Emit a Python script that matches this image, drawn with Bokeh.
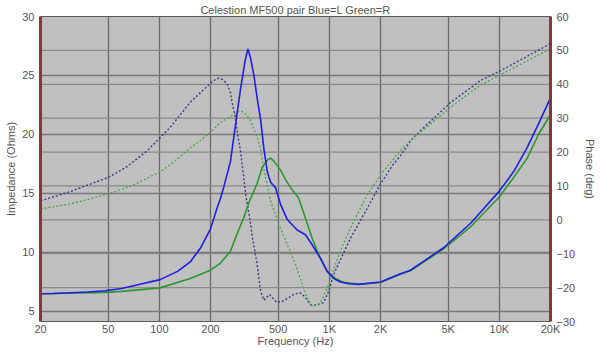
from bokeh.plotting import figure
from bokeh.models import Range1d, LinearAxis, FixedTicker, Span
from bokeh.embed import file_html
from bokeh.resources import INLINE

title_text = "Celestion MF500 pair Blue=L Green=R"
freq_ticks = [20, 50, 100, 200, 500, 1000, 2000, 5000, 10000, 20000]
freq_labels = ["20", "50", "100", "200", "500", "1K", "2K", "5K", "10K", "20K"]
ohm_ticks = [5, 10, 15, 20, 25, 30]
deg_ticks = [-30, -20, -10, 0, 10, 20, 30, 40, 50, 60]

# Impedance, left channel (blue solid)
zl_freq = [20, 24, 38, 48, 60, 77, 101, 128, 152, 175, 200, 219, 229, 240, 262, 275, 300,
           320, 332, 344, 360, 377, 394, 412, 421, 431, 441, 451, 461, 482, 516, 565, 647,
           724, 793, 887, 972, 1062, 1163, 1300, 1484, 2000, 2622, 3000, 4700, 6800, 10000,
           12200, 14600, 17000, 20000]
zl_ohm = [6.5, 6.52, 6.65, 6.75, 6.95, 7.3, 7.7, 8.4, 9.2, 10.4, 12.0, 13.8, 14.6, 15.6, 17.7,
          19.9, 23.8, 26.3, 27.25, 26.5, 25.0, 23.0, 21.3, 18.8, 17.9, 16.9, 16.4, 16.0, 15.8,
          15.5, 14.1, 12.8, 11.9, 11.5, 10.65, 9.5, 8.4, 7.8, 7.5, 7.35, 7.3, 7.5, 8.2, 8.5,
          10.4, 12.5, 15.2, 16.9, 18.9, 20.9, 23.1]

# Impedance, right channel (green solid)
zr_freq = [20, 48, 60, 101, 152, 200, 229, 262, 287, 313, 340, 360, 377, 403, 430, 451, 475,
           516, 552, 591, 661, 724, 793, 867, 972, 1087, 1200, 1484, 2000, 2622, 3000, 4700,
           6800, 10000, 12200, 14600, 17000, 20000]
zr_ohm = [6.5, 6.62, 6.7, 7.0, 7.8, 8.5, 9.1, 10.1, 11.6, 12.9, 14.4, 15.2, 15.9, 17.2, 17.8,
          18.0, 17.7, 17.0, 16.2, 15.5, 14.6, 12.9, 11.2, 9.8, 8.4, 7.8, 7.5, 7.3, 7.45, 8.15,
          8.45, 10.3, 12.2, 14.7, 16.4, 18.0, 20.0, 21.7]

# Phase, left channel (blue dotted)
pl_freq = [20, 29, 50, 65, 85, 116, 152, 175, 200, 215, 225, 240, 252, 262, 268, 281, 290,
           300, 313, 321, 344, 352, 376, 394, 412, 445, 490, 540, 618, 674, 724, 778, 850,
           925, 993, 1062, 1332, 1677, 2000, 2385, 2622, 3003, 3436, 5163, 7746, 10158, 20000]
pl_deg = [5.6, 8.1, 12.5, 15.8, 20.4, 27.3, 34.7, 37.6, 40.3, 41.5, 41.8, 41.2, 39.8, 37.6,
          34.5, 30.0, 24.5, 20.5, 13.0, 8.0, -1.0, -5.0, -13.0, -21.0, -23.7, -22.0, -24.4,
          -23.9, -22.0, -21.5, -22.9, -25.1, -25.1, -24.4, -21.0, -16.0, -5.4, 3.5, 10.6,
          16.5, 18.9, 23.3, 26.3, 34.6, 41.1, 44.0, 52.0]

# Phase, right channel (green dotted)
pr_freq = [20, 30, 50, 70, 89, 102, 116, 135, 152, 175, 200, 229, 262, 293, 307, 329, 344,
           360, 377, 394, 412, 451, 504, 565, 632, 692, 740, 793, 867, 925, 993, 1062, 1143,
           1332, 1677, 2082, 2622, 3003, 5163, 7746, 10158, 20000]
pr_deg = [3.2, 4.7, 7.6, 10.2, 12.8, 14.3, 16.3, 19.0, 21.2, 23.5, 25.8, 28.8, 30.5, 32.0,
          32.0, 30.7, 29.2, 26.8, 24.3, 20.9, 14.8, 5.6, -1.3, -7.2, -13.1, -19.0, -23.0,
          -25.4, -25.1, -22.5, -19.0, -14.5, -10.0, -2.4, 7.6, 14.4, 20.4, 23.4, 33.2, 39.8,
          42.8, 50.5]

TXT = "#555555"
FONT = "Liberation Sans"

p = figure(width=602, height=356, x_axis_type="log",
           x_range=Range1d(20, 20000), y_range=Range1d(4.15, 30),
           output_backend="svg", toolbar_location=None,
           min_border_left=40, min_border_right=52, min_border_top=16, min_border_bottom=35)
p.extra_y_ranges = {"phase": Range1d(-30, 60)}

p.background_fill_color = "#c0c0c0"
p.border_fill_color = "white"
p.outline_line_color = "#5a5a5a"
p.outline_line_width = 1

p.title.text = title_text
p.title.align = "center"
p.title.text_font = FONT
p.title.text_font_size = "11px"
p.title.text_font_style = "normal"
p.title.text_color = TXT
p.title.standoff = 1

# grids
p.xgrid.ticker = FixedTicker(ticks=freq_ticks)
p.xgrid.grid_line_color = "#6a6a6a"
p.xgrid.grid_line_width = 1.3
p.ygrid.ticker = FixedTicker(ticks=ohm_ticks)
p.ygrid.grid_line_color = "#777777"
p.ygrid.grid_line_width = 1.6
for d in deg_ticks[1:-1]:
    p.add_layout(Span(location=d, dimension="width", y_range_name="phase",
                      line_color="#8a8a8a", line_width=1.3, level="underlay"))

# axes
xa = p.xaxis[0]
xa.ticker = FixedTicker(ticks=freq_ticks)
xa.major_label_overrides = {t: l for t, l in zip(freq_ticks, freq_labels)}
xa.axis_label = "Frequency (Hz)"
xa.axis_line_color = None
xa.major_tick_line_color = None
xa.minor_tick_line_color = None
xa.major_tick_out = 0
xa.major_tick_in = 0
xa.minor_tick_out = 0
xa.major_label_standoff = 1
xa.axis_label_standoff = -3

ya = p.yaxis[0]
ya.ticker = FixedTicker(ticks=ohm_ticks)
ya.axis_label = "Impedance (Ohms)"
ya.axis_line_color = "#7a3c3c"
ya.axis_line_width = 3
ya.major_tick_line_color = None
ya.minor_tick_line_color = None
ya.major_tick_out = 0
ya.major_tick_in = 0
ya.minor_tick_out = 0
ya.major_label_standoff = 6
ya.axis_label_standoff = 2

ra = LinearAxis(y_range_name="phase", ticker=FixedTicker(ticks=deg_ticks),
                axis_label="Phase (deg)")
ra.axis_line_color = "#7a3c3c"
ra.axis_line_width = 3
ra.major_tick_line_color = None
ra.minor_tick_line_color = None
ra.major_tick_out = 0
ra.major_tick_in = 0
ra.minor_tick_out = 0
ra.major_label_standoff = 6
ra.axis_label_standoff = 6
p.add_layout(ra, "right")

for ax in (xa, ya, ra):
    ax.major_label_text_font = FONT
    ax.major_label_text_font_size = "11px"
    ax.major_label_text_color = TXT
    ax.axis_label_text_font = FONT
    ax.axis_label_text_font_size = "11px"
    ax.axis_label_text_font_style = "normal"
    ax.axis_label_text_color = TXT

# curves
p.line(pl_freq, pl_deg, y_range_name="phase", color="#3a3a8a", line_width=1.4, line_dash="2 2")
p.line(pr_freq, pr_deg, y_range_name="phase", color="#4ea84e", line_width=1.4, line_dash="2 2")
p.line(zr_freq, zr_ohm, color="#2e962e", line_width=1.6)
p.line(zl_freq, zl_ohm, color="#1e1ee6", line_width=1.6)

open("out.html", "w").write(file_html(p, INLINE))
